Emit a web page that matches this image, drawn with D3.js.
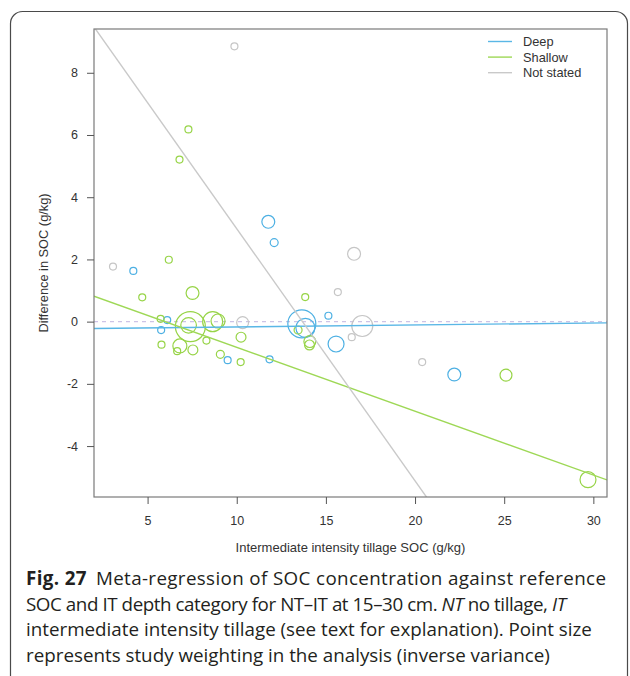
<!DOCTYPE html>
<html>
<head>
<meta charset="utf-8">
<script src="https://cdn.jsdelivr.net/npm/d3@7/dist/d3.min.js"></script>
<style>
  body { margin: 0; background: #fff; }
  svg { display: block; }
</style>
</head>
<body>
<svg id="chart" width="630" height="676"></svg>
<script>
// Study-level data: reference SOC (x), NT–IT difference (y), inverse-variance weight (w)
const deepX = [4.2, 11.77, 12.1, 15.14, 13.65, 13.85, 6.1, 5.76, 9.49, 11.84, 15.57, 22.2];
const deepY = [1.63, 3.21, 2.54, 0.19, -0.07, -0.2, 0.05, -0.27, -1.24, -1.21, -0.72, -1.7];
const deepW = [1, 3.4, 1.3, 1, 16, 7.4, 1, 1, 1, 1, 5.2, 3.4];

const shallowX = [6.19, 7.29, 6.79, 7.52, 4.7, 13.84, 7.4, 7.3, 8.65, 8.95, 5.73, 10.24, 5.78, 6.81, 6.66, 7.54, 8.3, 9.08, 10.22, 14.1, 14.08, 13.44, 25.1, 29.7];
const shallowY = [1.99, 6.18, 5.21, 0.92, 0.78, 0.79, -0.16, -0.12, 0.0, 0.02, 0.09, -0.5, -0.74, -0.78, -0.95, -0.91, -0.61, -1.05, -1.3, -0.64, -0.75, -0.27, -1.72, -5.08];
const shallowW = [1, 1, 1, 3.4, 1, 1, 18.4, 5, 8.2, 4, 1, 2, 1, 4, 1, 2, 1, 1.3, 1, 2.9, 2, 1.3, 2.9, 5.2];

const notStatedX = [3.06, 9.87, 16.58, 15.67, 10.33, 17.04, 16.45, 20.4];
const notStatedY = [1.77, 8.85, 2.18, 0.95, -0.03, -0.14, -0.5, -1.3];
const notStatedW = [1, 1, 3.4, 1, 2.9, 9, 1, 1];

// Meta-regression fits per depth category
const categories = ["Deep", "Shallow", "Not stated"];
const fitIntercept = [-0.233, 1.229, 11.09];
const fitSlope = [0.0063, -0.2053, -0.8104];

const xTicks = [5, 10, 15, 20, 25, 30];
const yTicks = [-4, -2, 0, 2, 4, 6, 8];

const colors = ["#4db0e3", "#97d447", "#c6c6c6"];
const lineColors = ["#5ab7e6", "#9ed856", "#c9c9c9"];

const series = [
  { name: categories[0], x: deepX, y: deepY, w: deepW },
  { name: categories[1], x: shallowX, y: shallowY, w: shallowW },
  { name: categories[2], x: notStatedX, y: notStatedY, w: notStatedW }
];

const svg = d3.select("#chart");
const plot = { left: 94, right: 607, top: 29, bottom: 497 };

// Outer figure frame (rounded, open at the bottom edge of the page)
svg.append("rect")
  .attr("x", 10.5).attr("y", 11.5)
  .attr("width", 617).attr("height", 690)
  .attr("rx", 12).attr("ry", 12)
  .attr("fill", "none").attr("stroke", "#4a4a4a").attr("stroke-width", 1.2);

// R-style 4% padded domains
const allX = series.flatMap(s => s.x), allY = series.flatMap(s => s.y);
function padded(v) {
  const [a, b] = d3.extent(v), p = (b - a) * 0.04;
  return [a - p, b + p];
}
const x = d3.scaleLinear().domain(padded(allX)).range([plot.left, plot.right]);
const y = d3.scaleLinear().domain(padded(allY)).range([plot.bottom, plot.top]);
const r = d3.scaleSqrt().domain([0, 18.4]).range([0, 15]);

svg.append("clipPath").attr("id", "plotclip")
  .append("rect")
  .attr("x", plot.left).attr("y", plot.top)
  .attr("width", plot.right - plot.left).attr("height", plot.bottom - plot.top);

const g = svg.append("g").attr("clip-path", "url(#plotclip)");

// Zero reference line
g.append("line")
  .attr("x1", plot.left).attr("x2", plot.right)
  .attr("y1", y(0)).attr("y2", y(0))
  .attr("stroke", "#cdc3e6").attr("stroke-width", 1.3)
  .attr("stroke-dasharray", "4,4");

// Study points
series.forEach((s, i) => {
  g.append("g").selectAll("circle")
    .data(s.x.map((d, j) => ({ x: d, y: s.y[j], w: s.w[j] })))
    .join("circle")
    .attr("cx", d => x(d.x)).attr("cy", d => y(d.y))
    .attr("r", d => r(d.w))
    .attr("fill", "none")
    .attr("stroke", colors[i]).attr("stroke-width", 1.2);
});

// Fitted regression lines
const xd = x.domain();
categories.forEach((c, i) => {
  g.append("line")
    .attr("x1", x(xd[0])).attr("y1", y(fitIntercept[i] + fitSlope[i] * xd[0]))
    .attr("x2", x(xd[1])).attr("y2", y(fitIntercept[i] + fitSlope[i] * xd[1]))
    .attr("stroke", lineColors[i]).attr("stroke-width", 1.4);
});

// Plot box
svg.append("rect")
  .attr("x", plot.left).attr("y", plot.top)
  .attr("width", plot.right - plot.left).attr("height", plot.bottom - plot.top)
  .attr("fill", "none").attr("stroke", "#7a7a7a").attr("stroke-width", 1.2);

const axisFont = "'Liberation Sans', Arial, sans-serif";

// Axes
const xAxis = svg.append("g")
  .attr("transform", `translate(0,${plot.bottom})`)
  .call(d3.axisBottom(x).tickValues(xTicks).tickSize(7).tickPadding(12).tickSizeOuter(0));
const yAxis = svg.append("g")
  .attr("transform", `translate(${plot.left},0)`)
  .call(d3.axisLeft(y).tickValues(yTicks).tickSize(7).tickPadding(9).tickSizeOuter(0)
    .tickFormat(d => d < 0 ? "-" + Math.abs(d) : d));
[xAxis, yAxis].forEach(a => {
  a.select(".domain").remove();
  a.selectAll(".tick line").attr("stroke", "#555");
  a.selectAll(".tick text").attr("fill", "#333")
    .style("font-family", axisFont).style("font-size", "12.5px");
});

svg.append("text")
  .attr("x", (plot.left + plot.right) / 2).attr("y", 552)
  .attr("text-anchor", "middle")
  .style("font-family", axisFont).style("font-size", "13px")
  .attr("fill", "#333")
  .text("Intermediate intensity tillage SOC (g/kg)");

svg.append("text")
  .attr("transform", `translate(48,${(plot.top + plot.bottom) / 2}) rotate(-90)`)
  .attr("text-anchor", "middle")
  .style("font-family", axisFont).style("font-size", "12.8px")
  .attr("fill", "#333")
  .text("Difference in SOC (g/kg)");

// Legend
const legend = svg.append("g").attr("transform", "translate(488,41.5)");
categories.forEach((c, i) => {
  const row = legend.append("g").attr("transform", `translate(0,${i * 15.6})`);
  row.append("line").attr("x1", 0).attr("x2", 24).attr("y1", 0).attr("y2", 0)
    .attr("stroke", lineColors[i]).attr("stroke-width", 1.4);
  row.append("text").attr("x", 35).attr("y", 4.5)
    .style("font-family", axisFont).style("font-size", "12.8px")
    .attr("fill", "#333").text(c);
});

// Figure caption (line widths set to the typeset column)
const capFont = "'Open Sans', 'Noto Sans', sans-serif";
const captionLines = [
  { w: 580, segs: [{ t: "Fig. 27", b: true }, { t: "Meta-regression of SOC concentration against reference", dx: 9 }] },
  { w: 540, segs: [{ t: "SOC and IT depth category for NT–IT at 15–30 cm. " }, { t: "NT", i: true }, { t: " no tillage, " }, { t: "IT", i: true }] },
  { w: null, segs: [{ t: "intermediate intensity tillage (see text for explanation). Point size" }] },
  { w: null, segs: [{ t: "represents study weighting in the analysis (inverse variance)" }] }
];
captionLines.forEach((line, k) => {
  const t = svg.append("text")
    .attr("x", 26).attr("y", 585 + k * 25.5)
    .attr("xml:space", "preserve")
    .style("font-family", capFont).style("font-size", "18.8px")
    .attr("fill", "#231f20");
  if (line.w) t.attr("textLength", line.w).attr("lengthAdjust", "spacing");
  line.segs.forEach(seg => {
    t.append("tspan")
      .attr("dx", seg.dx || null)
      .style("font-weight", seg.b ? "700" : "400")
      .style("font-style", seg.i ? "italic" : "normal")
      .text(seg.t);
  });
});
</script>
</body>
</html>
